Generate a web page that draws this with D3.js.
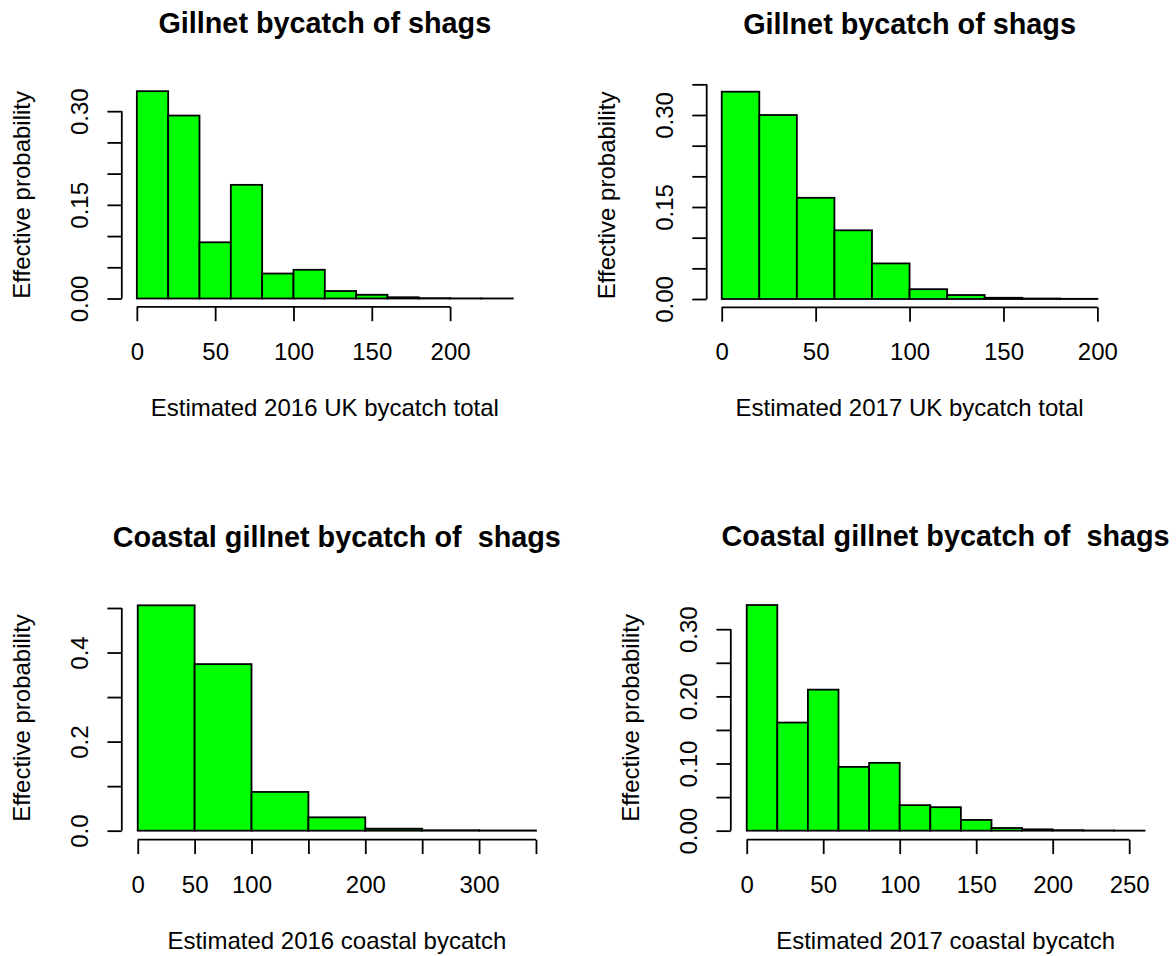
<!DOCTYPE html>
<html>
<head>
<meta charset="utf-8">
<script src="https://cdn.jsdelivr.net/npm/d3@7"></script>
<style>
  body { margin: 0; background: #fff; }
  text { font-family: "Liberation Sans", Arial, sans-serif; fill: #000; }
</style>
</head>
<body>
<div id="chart"></div>
<script>
// ---- data ----
var binWidthUK = 20;
var uk2016Prob = [0.332, 0.293, 0.090, 0.182, 0.040, 0.046, 0.012, 0.006, 0.002, 0.0006, 0.0002, 0.0001];
var uk2017Prob = [0.338, 0.300, 0.165, 0.112, 0.058, 0.016, 0.0065, 0.002, 0.0008, 0.0003];
var binWidthCoastal2016 = 50;
var coastal2016Prob = [0.506, 0.374, 0.087, 0.030, 0.0045, 0.001, 0.0005];
var binWidthCoastal2017 = 20;
var coastal2017Prob = [0.336, 0.161, 0.210, 0.095, 0.101, 0.038, 0.035, 0.016, 0.004, 0.002, 0.0008, 0.0003, 0.0001];

var titles = ["Gillnet bycatch of shags", "Gillnet bycatch of shags",
              "Coastal gillnet bycatch of  shags", "Coastal gillnet bycatch of  shags"];
var xTitles = ["Estimated 2016 UK bycatch total", "Estimated 2017 UK bycatch total",
               "Estimated 2016 coastal bycatch", "Estimated 2017 coastal bycatch"];
var yTitle = "Effective probability";

var xTicksUK = [0, 50, 100, 150, 200];
var xLabelsUK = ["0", "50", "100", "150", "200"];
var xTicksC16 = [0, 50, 100, 150, 200, 250, 300, 350];
var xLabelsC16 = ["0", "50", "100", "", "200", "", "300", ""];
var xTicksC17 = [0, 50, 100, 150, 200, 250];
var xLabelsC17 = ["0", "50", "100", "150", "200", "250"];

var yTicks16 = [0, 0.05, 0.10, 0.15, 0.20, 0.25, 0.30];
var yLabels16 = ["0.00", "", "", "0.15", "", "", "0.30"];
var yTicks17 = [0, 0.05, 0.10, 0.15, 0.20, 0.25, 0.30, 0.35];
var yLabels17 = ["0.00", "", "", "0.15", "", "", "0.30", ""];
var yTicksC16 = [0, 0.1, 0.2, 0.3, 0.4, 0.5];
var yLabelsC16 = ["0.0", "", "0.2", "", "0.4", ""];
var yTicksC17 = [0, 0.05, 0.10, 0.15, 0.20, 0.25, 0.30];
var yLabelsC17 = ["0.00", "", "0.10", "", "0.20", "", "0.30"];

// ---- layout ----
var width = 1176, height = 956;
var panels = [
  {box: [121.8, 82.9, 527.8, 306.8], probs: uk2016Prob, bw: binWidthUK,
   xt: xTicksUK, xl: xLabelsUK, yt: yTicks16, yl: yLabels16, title: titles[0], xlab: xTitles[0]},
  {box: [706.7, 83.4, 1112.4, 307.3], probs: uk2017Prob, bw: binWidthUK,
   xt: xTicksUK, xl: xLabelsUK, yt: yTicks17, yl: yLabels17, title: titles[1], xlab: xTitles[1]},
  {box: [121.8, 596.3, 551.9, 839.7], probs: coastal2016Prob, bw: binWidthCoastal2016,
   xt: xTicksC16, xl: xLabelsC16, yt: yTicksC16, yl: yLabelsC16, title: titles[2], xlab: xTitles[2]},
  {box: [730.8, 596.0, 1160.4, 839.7], probs: coastal2017Prob, bw: binWidthCoastal2017,
   xt: xTicksC17, xl: xLabelsC17, yt: yTicksC17, yl: yLabelsC17, title: titles[3], xlab: xTitles[3]}
];

var svg = d3.select("#chart").append("svg")
    .attr("width", width)
    .attr("height", height);

var fontSize = 24, tick = 14.4, lw = 1.8;

panels.forEach(function (p) {
    var left = p.box[0], top = p.box[1], right = p.box[2], bottom = p.box[3];
    var bins = p.probs.map(function (v, i) { return {x0: i * p.bw, x1: (i + 1) * p.bw, v: v}; });
    var xmax = bins[bins.length - 1].x1;
    var ymax = d3.max(p.probs);

    // R style 4% padding of the data range
    var x = d3.scaleLinear().domain([-0.04 * xmax, 1.04 * xmax]).range([left, right]);
    var y = d3.scaleLinear().domain([-0.04 * ymax, 1.04 * ymax]).range([bottom, top]);

    var g = svg.append("g");

    g.selectAll("rect.bar").data(bins).enter()
        .append("rect")
        .attr("class", "bar")
        .attr("x", function (d) { return x(d.x0); })
        .attr("width", function (d) { return x(d.x1) - x(d.x0); })
        .attr("y", function (d) { return y(d.v); })
        .attr("height", function (d) { return y(0) - y(d.v); })
        .style("fill", "#00ff00")
        .style("stroke", "#000")
        .style("stroke-width", lw);

    // x axis
    var xAxis = d3.axisBottom(x)
        .tickValues(p.xt)
        .tickSize(tick)
        .tickSizeOuter(0)
        .tickFormat(function (d, i) { return p.xl[i]; });
    var gx = g.append("g").attr("transform", "translate(0," + bottom + ")").call(xAxis);
    gx.select(".domain").remove();
    gx.append("line")
        .attr("x1", x(p.xt[0])).attr("x2", x(p.xt[p.xt.length - 1]))
        .attr("y1", 0).attr("y2", 0)
        .style("stroke", "#000").style("stroke-width", lw);
    gx.selectAll(".tick line").style("stroke", "#000").style("stroke-width", lw);
    gx.selectAll(".tick text")
        .attr("y", 53).attr("dy", null)
        .style("font-size", fontSize + "px")
        .style("font-family", "Liberation Sans, Arial, sans-serif")
        .attr("fill", "#000");

    // y axis, labels rotated like R's default
    var yAxis = d3.axisLeft(y)
        .tickValues(p.yt)
        .tickSize(tick)
        .tickSizeOuter(0)
        .tickFormat(function (d, i) { return p.yl[i]; });
    var gy = g.append("g").attr("transform", "translate(" + left + ",0)").call(yAxis);
    gy.select(".domain").remove();
    gy.append("line")
        .attr("x1", 0).attr("x2", 0)
        .attr("y1", y(p.yt[0])).attr("y2", y(p.yt[p.yt.length - 1]))
        .style("stroke", "#000").style("stroke-width", lw);
    gy.selectAll(".tick line").style("stroke", "#000").style("stroke-width", lw);
    gy.selectAll(".tick text")
        .attr("x", null).attr("dy", null)
        .attr("transform", "translate(-34,0) rotate(-90)")
        .attr("text-anchor", "middle")
        .style("font-size", fontSize + "px")
        .style("font-family", "Liberation Sans, Arial, sans-serif")
        .attr("fill", "#000");

    // titles
    var cx = (left + right) / 2;
    g.append("text")
        .attr("x", cx).attr("y", top - 49.7)
        .attr("text-anchor", "middle")
        .style("white-space", "pre")
        .style("font-size", (fontSize * 1.2) + "px")
        .style("font-weight", "bold")
        .text(p.title);

    g.append("text")
        .attr("x", cx).attr("y", bottom + 109)
        .attr("text-anchor", "middle")
        .style("font-size", fontSize + "px")
        .text(p.xlab);

    var cy = (top + bottom) / 2;
    g.append("text")
        .attr("transform", "translate(" + (left - 91.5) + "," + cy + ") rotate(-90)")
        .attr("text-anchor", "middle")
        .style("font-size", fontSize + "px")
        .text(yTitle);
});
</script>
</body>
</html>
